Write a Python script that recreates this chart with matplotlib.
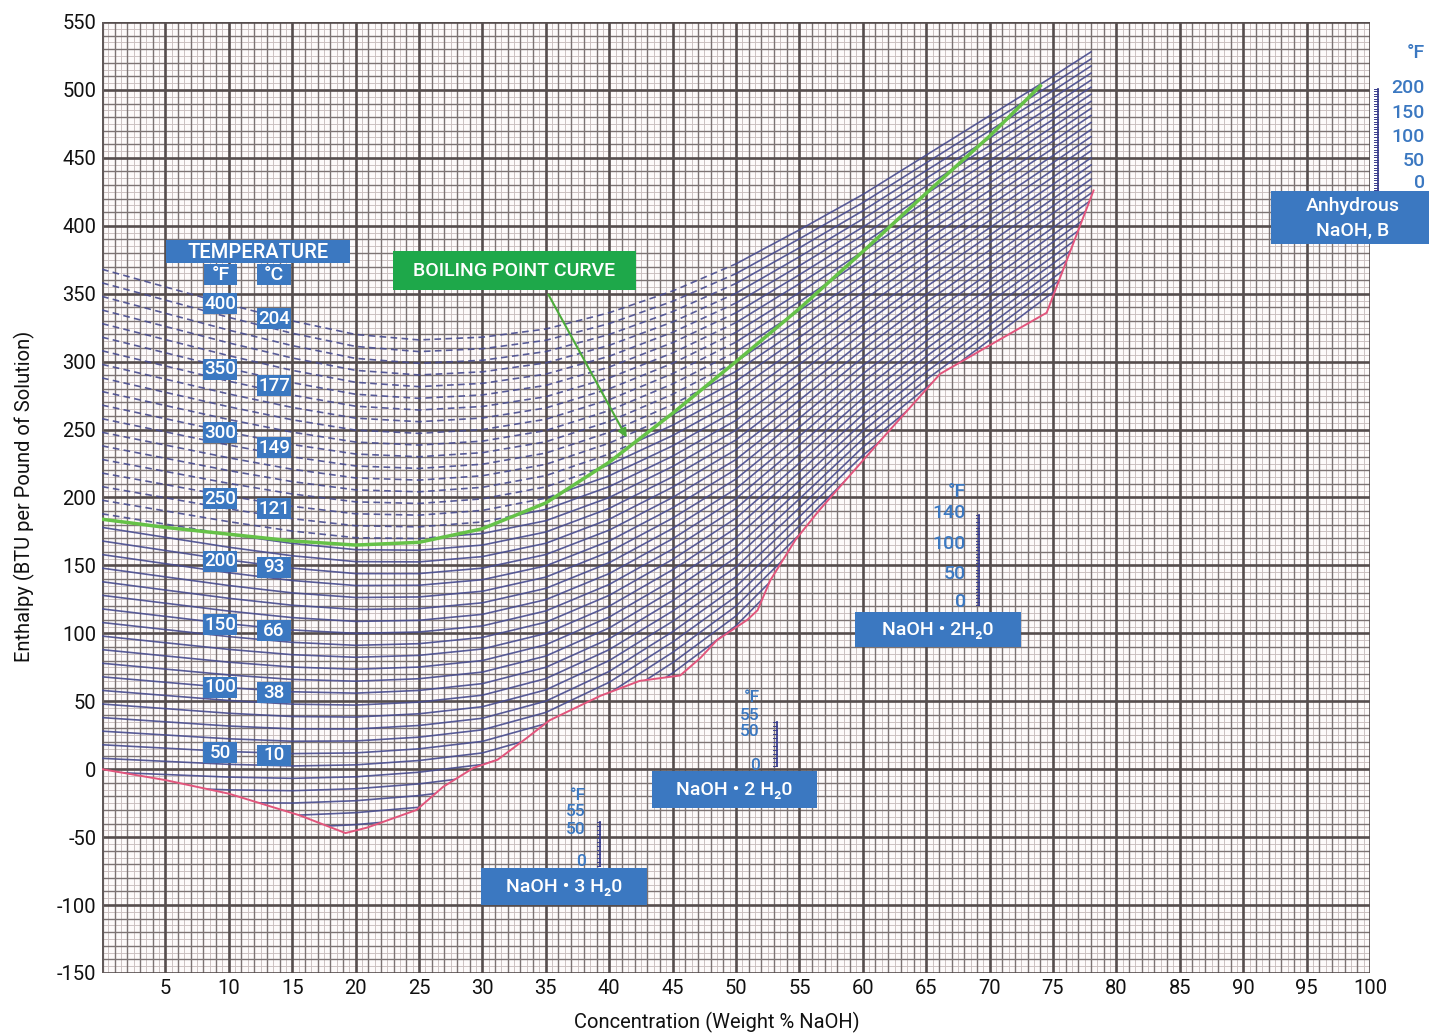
import numpy as np
import matplotlib
matplotlib.use("Agg")
import matplotlib.pyplot as plt
from matplotlib.patches import Polygon, Rectangle, FancyArrowPatch

plt.rcParams['font.family'] = ['Roboto', 'DejaVu Sans']
plt.rcParams['axes.unicode_minus'] = False

# ---------------- data ----------------
conc_grid = [0, 5, 10, 15, 20, 25, 30, 35, 40, 45, 50, 55, 60, 65, 70, 75, 78]
isotherm_temps_F = [400, 390, 380, 370, 360, 350, 340, 330, 320, 310, 300, 290, 280, 270,
                    260, 250, 240, 230, 220, 210, 200, 190, 180, 170, 160, 150, 140, 130,
                    120, 110, 100, 90, 80, 70, 60, 50, 40, 30, 20, 10, 0, -10]

# enthalpy of each isotherm (listed from 400 F downwards) at each concentration column
h_00 = [368, 358, 348, 338, 328, 318, 308, 298, 288, 278, 268, 258, 248, 238, 228, 218, 208, 198, 188,
        178, 168, 158, 148, 138, 128, 118, 108, 98, 88, 78, 68, 58, 48, 38, 28, 18, 8, -2]
h_05 = [355.0, 345.3, 335.6, 325.9, 316.2, 306.5, 296.8, 287.1, 277.4, 267.7, 258.0, 248.3, 238.6,
        228.9, 219.2, 209.5, 199.8, 190.1, 180.4, 170.7, 161.0, 151.3, 141.6, 131.9, 122.2, 112.5,
        102.8, 93.1, 83.4, 73.7, 64.0, 54.3, 44.6, 34.9, 25.2, 15.5, 5.8, -3.9, -13.6]
h_10 = [342.0, 332.6, 323.2, 313.8, 304.4, 295.0, 285.6, 276.2, 266.8, 257.4, 248.0, 238.6, 229.2,
        219.8, 210.4, 201.0, 191.6, 182.2, 172.8, 163.4, 154.0, 144.6, 135.2, 125.8, 116.4, 107.0,
        97.6, 88.2, 78.8, 69.4, 60.0, 50.6, 41.2, 31.8, 22.4, 13.0, 3.6, -5.8, -15.2, -24.6]
h_15 = [330.0, 320.9, 311.8, 302.7, 293.6, 284.5, 275.4, 266.3, 257.2, 248.1, 239.0, 229.9, 220.8,
        211.7, 202.6, 193.5, 184.4, 175.3, 166.2, 157.1, 148.0, 138.9, 129.8, 120.7, 111.6, 102.5,
        93.4, 84.3, 75.2, 66.1, 57.0, 47.9, 38.8, 29.7, 20.6, 11.5, 2.4, -6.7, -15.8, -24.9, -34.0, -43.1]
h_20 = [320.0, 311.2, 302.4, 293.6, 284.8, 276.0, 267.2, 258.4, 249.6, 240.8, 232.0, 223.2, 214.4,
        205.6, 196.8, 188.0, 179.2, 170.4, 161.6, 152.8, 144.0, 135.2, 126.4, 117.6, 108.8, 100.0,
        91.2, 82.4, 73.6, 64.8, 56.0, 47.2, 38.4, 29.6, 20.8, 12.0, 3.2, -5.6, -14.4, -23.2, -32.0, -40.8]
h_25 = [316.0, 307.4, 298.8, 290.2, 281.6, 273.0, 264.4, 255.8, 247.2, 238.6, 230.0, 221.4, 212.8,
        204.2, 195.6, 187.0, 178.4, 169.8, 161.2, 152.6, 144.0, 135.4, 126.8, 118.2, 109.6, 101.0,
        92.4, 83.8, 75.2, 66.6, 58.0, 49.4, 40.8, 32.2, 23.6, 15.0, 6.4, -2.2, -10.8, -19.4, -28.0, -36.6]
h_30 = [318.0, 309.5, 301.0, 292.5, 284.0, 275.5, 267.0, 258.5, 250.0, 241.5, 233.0, 224.5, 216.0,
        207.5, 199.0, 190.5, 182.0, 173.5, 165.0, 156.5, 148.0, 139.5, 131.0, 122.5, 114.0, 105.5,
        97.0, 88.5, 80.0, 71.5, 63.0, 54.5, 46.0, 37.5, 29.0, 20.5, 12.0, 3.5, -5.0, -13.5, -22.0]
h_35 = [324.0, 315.7, 307.4, 299.1, 290.8, 282.5, 274.2, 265.9, 257.6, 249.3, 241.0, 232.7, 224.4,
        216.1, 207.8, 199.5, 191.2, 182.9, 174.6, 166.3, 158.0, 149.7, 141.4, 133.1, 124.8, 116.5,
        108.2, 99.9, 91.6, 83.3, 75.0, 66.7, 58.4, 50.1, 41.8, 33.5, 25.2, 16.9]
h_40 = [336, 328, 320, 312, 304, 296, 288, 280, 272, 264, 256, 248, 240, 232, 224, 216, 208, 200, 192,
        184, 176, 168, 160, 152, 144, 136, 128, 120, 112, 104, 96, 88, 80, 72, 64, 56, 48, 40]
h_45 = [352.0, 344.4, 336.8, 329.2, 321.6, 314.0, 306.4, 298.8, 291.2, 283.6, 276.0, 268.4, 260.8,
        253.2, 245.6, 238.0, 230.4, 222.8, 215.2, 207.6, 200.0, 192.4, 184.8, 177.2, 169.6, 162.0,
        154.4, 146.8, 139.2, 131.6, 124.0, 116.4, 108.8, 101.2, 93.6, 86.0, 78.4, 70.8]
h_50 = [372.0, 364.8, 357.6, 350.4, 343.2, 336.0, 328.8, 321.6, 314.4, 307.2, 300.0, 292.8, 285.6,
        278.4, 271.2, 264.0, 256.8, 249.6, 242.4, 235.2, 228.0, 220.8, 213.6, 206.4, 199.2, 192.0,
        184.8, 177.6, 170.4, 163.2, 156.0, 148.8, 141.6, 134.4, 127.2, 120.0, 112.8, 105.6]
h_55 = [397.0, 390.4, 383.8, 377.2, 370.6, 364.0, 357.4, 350.8, 344.2, 337.6, 331.0, 324.4, 317.8,
        311.2, 304.6, 298.0, 291.4, 284.8, 278.2, 271.6, 265.0, 258.4, 251.8, 245.2, 238.6, 232.0,
        225.4, 218.8, 212.2, 205.6, 199.0, 192.4, 185.8, 179.2, 172.6, 166.0, 159.4, 152.8]
h_60 = [423, 417, 411, 405, 399, 393, 387, 381, 375, 369, 363, 357, 351, 345, 339, 333, 327, 321, 315,
        309, 303, 297, 291, 285, 279, 273, 267, 261, 255, 249, 243, 237, 231, 225, 219]
h_65 = [452.0, 446.3, 440.6, 434.9, 429.2, 423.5, 417.8, 412.1, 406.4, 400.7, 395.0, 389.3, 383.6,
        377.9, 372.2, 366.5, 360.8, 355.1, 349.4, 343.7, 338.0, 332.3, 326.6, 320.9, 315.2, 309.5,
        303.8, 298.1, 292.4, 286.7, 281.0, 275.3, 269.6]
h_70 = [481.0, 475.5, 470.0, 464.5, 459.0, 453.5, 448.0, 442.5, 437.0, 431.5, 426.0, 420.5, 415.0,
        409.5, 404.0, 398.5, 393.0, 387.5, 382.0, 376.5, 371.0, 365.5, 360.0, 354.5, 349.0, 343.5,
        338.0, 332.5, 327.0, 321.5, 316.0]
h_75 = [510.0, 504.7, 499.4, 494.1, 488.8, 483.5, 478.2, 472.9, 467.6, 462.3, 457.0, 451.7, 446.4,
        441.1, 435.8, 430.5, 425.2, 419.9, 414.6, 409.3, 404.0, 398.7, 393.4, 388.1, 382.8, 377.5,
        372.2, 366.9, 361.6, 356.3, 351.0]
h_78 = [528.0, 522.8, 517.6, 512.4, 507.2, 502.0, 496.8, 491.6, 486.4, 481.2, 476.0, 470.8, 465.6,
        460.4, 455.2, 450.0, 444.8, 439.6, 434.4, 429.2, 424.0, 418.8, 413.6, 408.4, 403.2, 398.0,
        392.8, 387.6, 382.4, 377.2, 372.0]

# solid-phase boundary (red curve)
solid_x = [0, 5, 10, 15.6, 19.2, 20.9, 24.8, 26.9, 29.3, 31.2, 33.5, 35.3, 39.3, 42.4, 45.6, 47.2,
           48.5, 50.9, 51.7, 52.7, 54.7, 56.6, 58.2, 61.4, 66.1, 70.0, 74.5, 78.2]
solid_h = [0, -8, -18, -34, -47, -43, -30, -13, 1, 7, 23, 36, 54, 65, 69, 82, 95, 110, 117, 139,
           169, 191, 208, 242, 291, 312, 336, 426]

# boiling point curve (green)
boil_x = [0, 5, 10, 15, 20, 25, 30, 35, 40, 45, 50, 55, 60, 65, 70, 74]
boil_h = [184, 178, 173, 168, 165, 167, 177, 196, 226, 262, 300, 339, 381, 424, 466, 503]

# temperature legend labels
temp_labels_F = [400, 350, 300, 250, 200, 150, 100, 50]
temp_labels_C = [204, 177, 149, 121, 93, 66, 38, 10]

# enthalpy scales of the solid phases
solid_names = ['NaOH • 3 H\u20820', 'NaOH • 2 H\u20820', 'NaOH • 2H\u20820', 'Anhydrous\nNaOH, B']
solid_scale_x = [39.3, 53.2, 69.2, 100.6]
solid_scale_h_low = [-71, 2, 121, 426]
solid_scale_h_high = [-39, 35, 187, 501]
solid_scale_T_high = [55, 55, 140, 200]
solid_scale_labels = [['°F', '55', '50', '0'], ['°F', '55', '50', '0'],
                      ['°F', '140', '100', '50', '0'], ['°F', '200', '150', '100', '50', '0']]

# ---------------- figure ----------------
W, H = 1429, 1034
fig = plt.figure(figsize=(W / 100, H / 100), dpi=100)
ax = fig.add_axes([102 / W, 1 - 973 / H, 1268 / W, 951 / H])
ax.set_xlim(0, 100)
ax.set_ylim(-150, 550)
ax.set_facecolor('#fdfafa')
for s in ax.spines.values():
    s.set_visible(False)

# graph-paper grid
for xv in np.arange(0, 100.01, 0.5):
    if abs(xv % 5) < 1e-9:
        ax.axvline(xv, color='#554d4d', lw=1.9, zorder=0.3)
    elif abs(xv % 1) < 1e-9:
        ax.axvline(xv, color='#7c7373', lw=1.0, zorder=0.2)
    else:
        ax.axvline(xv, color='#c9bebe', lw=0.65, zorder=0.1)
for yv in np.arange(-150, 550.01, 5):
    if abs(yv % 50) < 1e-9:
        ax.axhline(yv, color='#554d4d', lw=1.9, zorder=0.3)
    elif abs(yv % 10) < 1e-9:
        ax.axhline(yv, color='#7c7373', lw=1.0, zorder=0.2)
    else:
        ax.axhline(yv, color='#c9bebe', lw=0.65, zorder=0.1)
ax.axvline(0, color='#625a5a', lw=3, zorder=0.4)

# isotherm table
cols = [h_00, h_05, h_10, h_15, h_20, h_25, h_30, h_35, h_40, h_45, h_50, h_55, h_60, h_65, h_70, h_75, h_78]
table = np.full((len(isotherm_temps_F), len(conc_grid)), np.nan)
for j, col in enumerate(cols):
    table[:len(col), j] = col

# clip regions: liquid below boiling curve (solid lines) / vapour region x<50 (dashed)
bx = np.array(boil_x, float)
bh = np.array(boil_h, float)
left_mask = bx <= 50
solid_region = list(zip(solid_x, solid_h)) + [(78.2, 700), (50, 700)] + \
    list(zip(bx[left_mask][::-1], bh[left_mask][::-1]))
dash_region = list(zip(bx[left_mask], bh[left_mask])) + [(50, 700), (0, 700)]
solid_clip = Polygon(solid_region, closed=True, transform=ax.transData)
dash_clip = Polygon(dash_region, closed=True, transform=ax.transData)

iso_color = '#474b8e'
for i in range(len(isotherm_temps_F)):
    ln, = ax.plot(conc_grid, table[i], color=iso_color, lw=1.2, zorder=2, alpha=0.9)
    ln.set_clip_path(solid_clip)
    ld, = ax.plot(conc_grid, table[i], color=iso_color, lw=1.2, zorder=2, alpha=0.9,
                  ls=(0, (4, 2.6)))
    ld.set_clip_path(dash_clip)

ax.plot(solid_x, solid_h, color='#e2557c', lw=1.4, zorder=3)
ax.plot(boil_x, boil_h, color='#66c248', lw=2.5, zorder=4)

# solid-phase enthalpy scales
bar_color = '#3b3f8e'
for k in range(len(solid_scale_x)):
    xs = solid_scale_x[k]
    lo, hi = solid_scale_h_low[k], solid_scale_h_high[k]
    ax.plot([xs, xs], [lo, hi], color=bar_color, lw=1.3, zorder=4, clip_on=False)
    nt = solid_scale_T_high[k] // 5
    for t in range(nt + 1):
        yy = lo + (hi - lo) * t / nt
        ax.plot([xs - 0.28, xs], [yy, yy], color=bar_color, lw=0.7, zorder=4, clip_on=False)

# ticks
ax.set_xticks(range(5, 101, 5))
ax.set_yticks(range(-150, 551, 50))
ax.tick_params(length=0, labelsize=14.5, labelcolor='#111111')
ax.tick_params(axis='x', pad=4)
ax.tick_params(axis='y', pad=4)


def ftext(x, y, s, **kw):
    return fig.text(x / W, 1 - y / H, s, **kw)


def frect(l, t, r, b, color):
    fig.add_artist(Rectangle((l / W, 1 - b / H), (r - l) / W, (b - t) / H,
                             transform=fig.transFigure, fc=color, ec='none', zorder=5))


ftext(24, 496, 'Enthalpy (BTU per Pound of Solution)', rotation=90, ha='center', va='center',
      fontsize=14.5, color='#111111')
ftext(717, 1022, 'Concentration (Weight % NaOH)', ha='center', va='center', fontsize=14.5,
      color='#111111')

BLUE = '#3b78c1'
GREEN = '#1ea84a'
BW = 'medium'
# temperature legend
frect(166, 240, 350, 263, BLUE)
ftext(258, 252, 'TEMPERATURE', ha='center', va='center', fontsize=14.5, color='white', zorder=6,
      fontweight=BW)
frect(204, 264, 237, 285, BLUE)
ftext(220.5, 275, '°F', ha='center', va='center', fontsize=14, color='white', zorder=6, fontweight=BW)
frect(257, 264, 291, 285, BLUE)
ftext(274, 275, '°C', ha='center', va='center', fontsize=14, color='white', zorder=6, fontweight=BW)
f_y = [303.5, 369, 432.5, 498, 561, 624.5, 687, 752]
c_y = [318, 385.5, 447.5, 508, 567, 630, 692, 755]
for tf, yf in zip(temp_labels_F, f_y):
    frect(203, yf - 10.5, 237, yf + 10.5, BLUE)
    ftext(220, yf + 0.5, str(tf), ha='center', va='center', fontsize=13.5, color='white', zorder=6,
          fontweight=BW)
for tc, yc in zip(temp_labels_C, c_y):
    frect(257, yc - 10.5, 291, yc + 10.5, BLUE)
    ftext(274, yc + 0.5, str(tc), ha='center', va='center', fontsize=13.5, color='white', zorder=6,
          fontweight=BW)

# boiling point curve label
frect(393, 251, 636, 290, GREEN)
ftext(514.5, 271, 'BOILING POINT CURVE', ha='center', va='center', fontsize=14, color='white', zorder=6,
      fontweight=BW)
fig.add_artist(FancyArrowPatch((547 / W, 1 - 292 / H), (628 / W, 1 - 440 / H), transform=fig.transFigure,
                               arrowstyle='-|>,head_length=5,head_width=2.5', color='#4cab3a', lw=1.5,
                               zorder=6))

# solid phase boxes
frect(481, 868, 647, 905, BLUE)
ftext(564, 887, solid_names[0], ha='center', va='center', fontsize=14, color='white', zorder=6,
      fontweight=BW)
frect(652, 771, 817, 808, BLUE)
ftext(734.5, 790, solid_names[1], ha='center', va='center', fontsize=14, color='white', zorder=6,
      fontweight=BW)
frect(855, 612, 1021, 647, BLUE)
ftext(938, 630, solid_names[2], ha='center', va='center', fontsize=14, color='white', zorder=6,
      fontweight=BW)
frect(1271, 191, 1429, 244, BLUE)
ftext(1353, 218.5, solid_names[3], ha='center', va='center', fontsize=14, color='white', zorder=6,
      linespacing=1.45, fontweight=BW)

# scale labels
scale_label_pos = [
    (586, [795, 812, 829, 861]),
    (760, [698, 715, 732, 765]),
    (966, [492, 513, 544, 574, 602]),
    (1425, [53, 88, 113, 137, 161, 183]),
]
scale_font = [12.5, 12.5, 14, 14]
for (xr, ys), labs, fs in zip(scale_label_pos, solid_scale_labels, scale_font):
    for yy, lab in zip(ys, labs):
        ftext(xr, yy, lab, ha='right', va='center', fontsize=fs, color=BLUE, zorder=6,
              fontweight=BW)

fig.savefig('out.png', dpi=100, facecolor='white')
